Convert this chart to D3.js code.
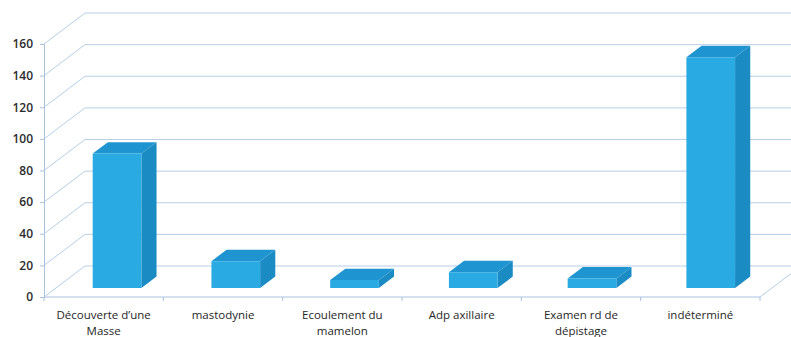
<!DOCTYPE html>
<html>
<head>
<meta charset="utf-8">
<script src="https://cdn.jsdelivr.net/npm/d3@7/dist/d3.min.js"></script>
<style>
  html, body { margin: 0; padding: 0; background: #ffffff; }
  svg { display: block; }
</style>
</head>
<body>
<div id="chart"></div>
<script>
// Motifs de consultation (effectifs)
const categories = [
  "Découverte d’une\nMasse",
  "mastodynie",
  "Ecoulement du\nmamelon",
  "Adp axillaire",
  "Examen rd de\ndépistage",
  "indéterminé"
];
const values = [85, 17, 5, 10, 6, 146];
const yTicks = [0, 20, 40, 60, 80, 100, 120, 140, 160];

const W = 791, H = 337;
const svg = d3.select("#chart").append("svg")
  .attr("width", W).attr("height", H);

// Plot frame (front plane) and 3D depth offset
const plotLeft = 44, plotRight = 760, plotBottom = 297, plotTop = 44;
const DX = 41, DY = -31;            // full depth of the chart box
const dFront = 0.29, dBack = 0.66;  // bar depth span within the box

const x = d3.scaleBand().domain(categories).range([plotLeft, plotRight]).paddingInner(0.59).paddingOuter(0.31);
const y = d3.scaleLinear().domain([0, 160]).range([plotBottom, plotTop]);

const gridColor = "#b7cfe7";
const axisColor = "#a9c2dc";

// Back wall gridlines and left wall diagonals
const grid = svg.append("g");
yTicks.forEach(v => {
  grid.append("line")
    .attr("x1", plotLeft + DX).attr("y1", y(v) + DY)
    .attr("x2", plotRight + DX).attr("y2", y(v) + DY)
    .attr("stroke", gridColor).attr("stroke-width", 1);
  grid.append("line")
    .attr("x1", plotLeft).attr("y1", y(v))
    .attr("x2", plotLeft + DX).attr("y2", y(v) + DY)
    .attr("stroke", gridColor).attr("stroke-width", 1);
});
// Floor edges
grid.append("line")
  .attr("x1", plotLeft).attr("y1", y(0)).attr("x2", plotRight).attr("y2", y(0))
  .attr("stroke", axisColor).attr("stroke-width", 1);
grid.append("line")
  .attr("x1", plotRight).attr("y1", y(0)).attr("x2", plotRight + DX).attr("y2", y(0) + DY)
  .attr("stroke", gridColor).attr("stroke-width", 1);

// Category boundary ticks on the floor front edge
const step = (plotRight - plotLeft) / categories.length;
d3.range(categories.length + 1).forEach(i => {
  const bx = plotLeft + i * step;
  grid.append("line")
    .attr("x1", bx).attr("y1", y(0)).attr("x2", bx).attr("y2", y(0) + 4)
    .attr("stroke", axisColor).attr("stroke-width", 1);
});

// Y axis
const yAxis = svg.append("g")
  .attr("transform", `translate(${plotLeft},0)`)
  .call(d3.axisLeft(y).tickValues(yTicks).tickSize(4).tickPadding(7).tickFormat(d3.format("d")));
yAxis.select(".domain").attr("stroke", axisColor);
yAxis.selectAll(".tick line").attr("stroke", axisColor);
yAxis.selectAll("text")
  .attr("fill", "#2b2b2b")
  .style("font-family", "'Open Sans', sans-serif")
  .style("font-size", "12px")
  .style("font-weight", "600");

// 3D bars
const P = (px, py, d) => [px + DX * d, py + DY * d];
const poly = pts => "M" + pts.map(p => p.join(",")).join("L") + "Z";
const bars = svg.append("g");
categories.forEach((c, i) => {
  const x0 = x(c), x1 = x(c) + x.bandwidth();
  const yb = y(0), yt = y(values[i]);
  const g = bars.append("g");
  // right side
  g.append("path")
    .attr("d", poly([P(x1, yb, dFront), P(x1, yb, dBack), P(x1, yt, dBack), P(x1, yt, dFront)]))
    .attr("fill", "#1b8bc4");
  // top
  g.append("path")
    .attr("d", poly([P(x0, yt, dFront), P(x1, yt, dFront), P(x1, yt, dBack), P(x0, yt, dBack)]))
    .attr("fill", "#1e95d0");
  // front
  g.append("path")
    .attr("d", poly([P(x0, yb, dFront), P(x1, yb, dFront), P(x1, yt, dFront), P(x0, yt, dFront)]))
    .attr("fill", "#29aae2");
});

// Category labels
const labels = svg.append("g")
  .style("font-family", "'Open Sans', sans-serif")
  .style("font-size", "11.5px")
  .attr("fill", "#262626")
  .attr("text-anchor", "middle");
categories.forEach((c, i) => {
  const cx = plotLeft + (i + 0.5) * step;
  const t = labels.append("text").attr("x", cx).attr("y", 319);
  c.split("\n").forEach((line, j) => {
    t.append("tspan").attr("x", cx).attr("dy", j === 0 ? 0 : 16).text(line);
  });
});
</script>
</body>
</html>
